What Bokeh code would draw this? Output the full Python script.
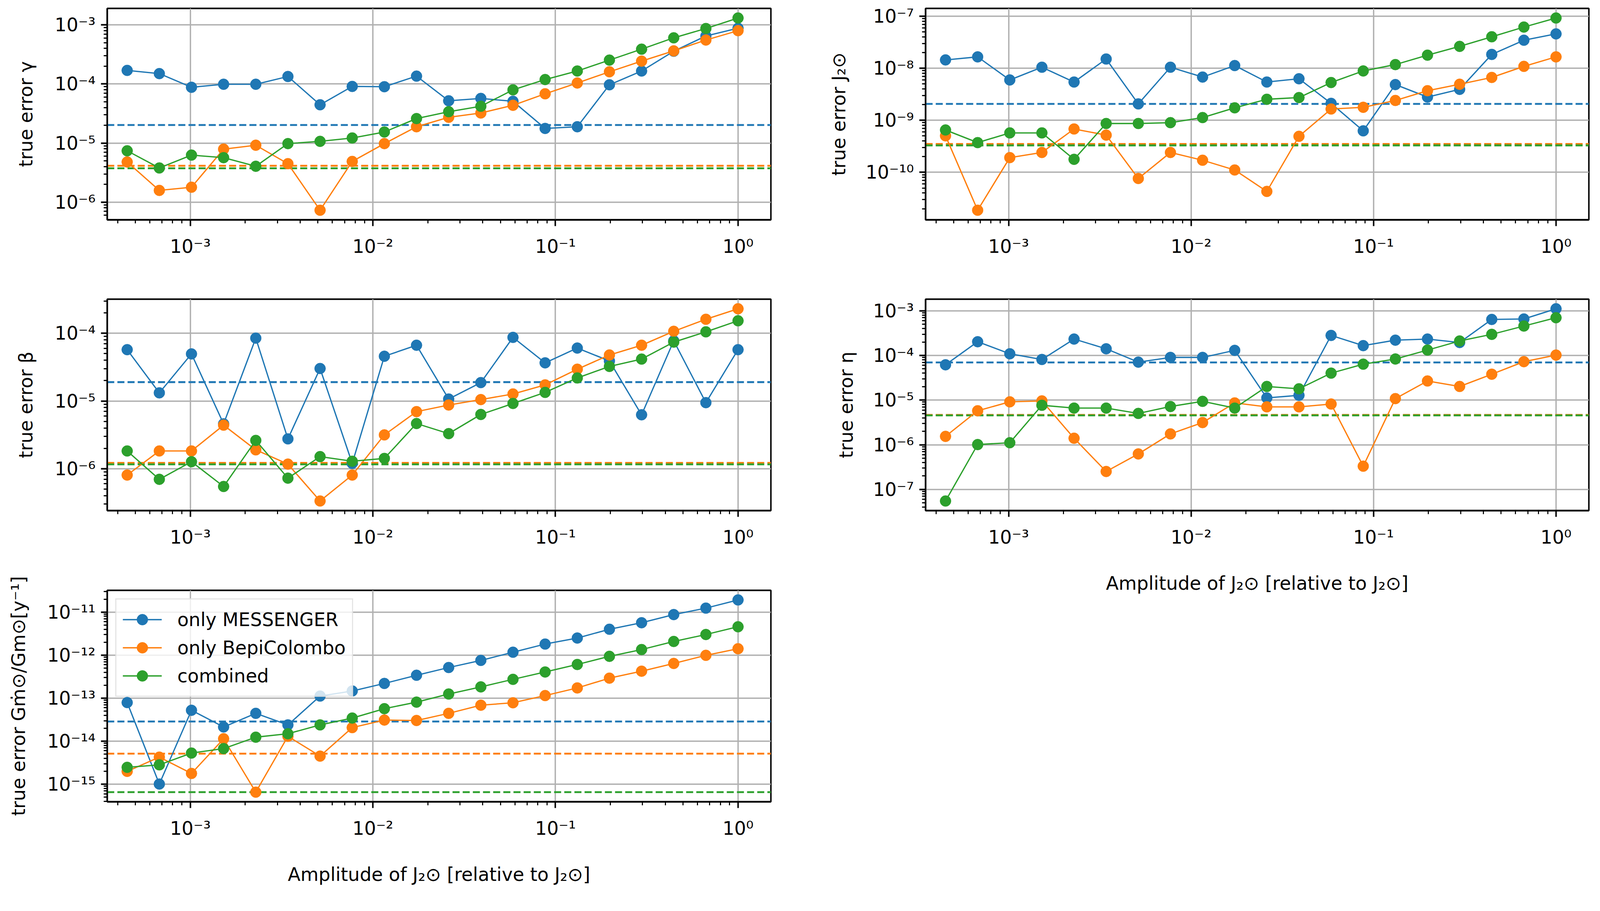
from bokeh.plotting import figure
from bokeh.models import FixedTicker, Span, Range1d
from bokeh.layouts import row, column
from bokeh.embed import file_html
from bokeh.resources import INLINE
import math

# ---------------- data ----------------
amplitude = [4.511e-4, 6.766e-4, 1.015e-3, 1.522e-3, 2.284e-3, 3.425e-3, 5.138e-3,
             7.707e-3, 1.156e-2, 1.734e-2, 2.601e-2, 3.902e-2, 5.853e-2, 8.779e-2,
             0.1317, 0.1975, 0.2963, 0.4444, 0.6667, 1.0]

series_names = ["only MESSENGER", "only BepiColombo", "combined"]
series_colors = ["#1f77b4", "#ff7f0e", "#2ca02c"]

gamma_messenger = [1.70e-4, 1.50e-4, 8.8e-5, 9.9e-5, 9.9e-5, 1.34e-4, 4.45e-5, 9.1e-5, 9.0e-5, 1.36e-4,
                   5.2e-5, 5.7e-5, 5.1e-5, 1.77e-5, 1.89e-5, 9.7e-5, 1.66e-4, 3.59e-4, 6.5e-4, 8.8e-4]
gamma_bepi = [4.79e-6, 1.58e-6, 1.79e-6, 7.9e-6, 9.2e-6, 4.48e-6, 7.3e-7, 4.89e-6, 9.8e-6, 1.89e-5,
              2.73e-5, 3.23e-5, 4.36e-5, 6.83e-5, 1.04e-4, 1.61e-4, 2.44e-4, 3.64e-4, 5.55e-4, 8.0e-4]
gamma_combined = [7.4e-6, 3.79e-6, 6.26e-6, 5.66e-6, 4.05e-6, 9.8e-6, 1.07e-5, 1.22e-5, 1.54e-5, 2.6e-5,
                  3.40e-5, 4.2e-5, 7.96e-5, 1.19e-4, 1.66e-4, 2.54e-4, 3.89e-4, 6.05e-4, 8.7e-4, 1.31e-3]
gamma_thresholds = [2.02e-5, 4.13e-6, 3.74e-6]

j2_messenger = [1.45e-8, 1.66e-8, 5.97e-9, 1.05e-8, 5.45e-9, 1.51e-8, 2.07e-9, 1.05e-8, 6.79e-9, 1.13e-8,
                5.45e-9, 6.3e-9, 2.12e-9, 6.28e-10, 4.87e-9, 2.8e-9, 3.94e-9, 1.85e-8, 3.47e-8, 4.59e-8]
j2_bepi = [5.04e-10, 1.87e-11, 1.92e-10, 2.41e-10, 6.82e-10, 5.2e-10, 7.62e-11, 2.41e-10, 1.71e-10, 1.11e-10,
           4.3e-11, 4.93e-10, 1.65e-9, 1.78e-9, 2.41e-9, 3.71e-9, 4.94e-9, 6.68e-9, 1.09e-8, 1.66e-8]
j2_combined = [6.52e-10, 3.73e-10, 5.73e-10, 5.73e-10, 1.78e-10, 8.69e-10, 8.69e-10, 9.02e-10, 1.13e-9, 1.74e-9,
               2.54e-9, 2.74e-9, 5.33e-9, 8.9e-9, 1.18e-8, 1.79e-8, 2.64e-8, 4.04e-8, 6.21e-8, 9.27e-8]
j2_thresholds = [2.07e-9, 3.51e-10, 3.30e-10]

beta_messenger = [5.73e-5, 1.32e-5, 4.96e-5, 4.6e-6, 8.48e-5, 2.76e-6, 3.02e-5, 1.2e-6, 4.58e-5, 6.66e-5,
                  1.07e-5, 1.87e-5, 8.7e-5, 3.66e-5, 6.05e-5, 3.9e-5, 6.26e-6, 7.74e-5, 9.46e-6, 5.73e-5]
beta_bepi = [8.07e-7, 1.83e-6, 1.83e-6, 4.4e-6, 1.9e-6, 1.17e-6, 3.34e-7, 8.07e-7, 3.16e-6, 6.97e-6,
             8.73e-6, 1.05e-5, 1.27e-5, 1.73e-5, 2.95e-5, 4.78e-5, 6.66e-5, 1.07e-4, 1.61e-4, 2.3e-4]
beta_combined = [1.83e-6, 6.98e-7, 1.27e-6, 5.47e-7, 2.62e-6, 7.26e-7, 1.51e-6, 1.29e-6, 1.42e-6, 4.65e-6,
                 3.3e-6, 6.33e-6, 9.2e-6, 1.34e-5, 2.19e-5, 3.24e-5, 4.16e-5, 7.41e-5, 1.05e-4, 1.53e-4]
beta_thresholds = [1.90e-5, 1.22e-6, 1.16e-6]

eta_messenger = [6.18e-5, 2.03e-4, 1.09e-4, 8.13e-5, 2.33e-4, 1.41e-4, 7.09e-5, 9.04e-5, 9.04e-5, 1.30e-4,
                 1.12e-5, 1.28e-5, 2.81e-4, 1.66e-4, 2.2e-4, 2.33e-4, 1.95e-4, 6.41e-4, 6.56e-4, 1.11e-3]
eta_bepi = [1.54e-6, 5.77e-6, 9.15e-6, 9.6e-6, 1.40e-6, 2.52e-7, 6.23e-7, 1.75e-6, 3.14e-6, 8.65e-6,
            7.06e-6, 7.06e-6, 8.17e-6, 3.31e-7, 1.08e-5, 2.68e-5, 2.02e-5, 3.8e-5, 7.26e-5, 1.02e-4]
eta_combined = [5.5e-8, 1.01e-6, 1.11e-6, 7.66e-6, 6.62e-6, 6.62e-6, 5.03e-6, 7.18e-6, 9.38e-6, 6.62e-6,
                2.02e-5, 1.79e-5, 4.02e-5, 6.38e-5, 8.33e-5, 1.32e-4, 2.11e-4, 2.97e-4, 4.56e-4, 7.0e-4]
eta_thresholds = [6.98e-5, 4.65e-6, 4.55e-6]

gm_messenger = [7.91e-14, 1.01e-15, 5.23e-14, 2.14e-14, 4.44e-14, 2.39e-14, 1.12e-13, 1.47e-13, 2.2e-13, 3.41e-13,
                5.16e-13, 7.55e-13, 1.17e-12, 1.81e-12, 2.5e-12, 4.0e-12, 5.67e-12, 8.77e-12, 1.24e-11, 1.92e-11]
gm_bepi = [1.99e-15, 4.26e-15, 1.78e-15, 1.14e-14, 6.54e-16, 1.30e-14, 4.5e-15, 2.07e-14, 3.1e-14, 3.03e-14,
           4.44e-14, 6.87e-14, 7.82e-14, 1.15e-13, 1.73e-13, 2.92e-13, 4.24e-13, 6.41e-13, 9.91e-13, 1.41e-12]
gm_combined = [2.47e-15, 2.82e-15, 5.3e-15, 6.73e-15, 1.24e-14, 1.49e-14, 2.39e-14, 3.45e-14, 5.7e-14, 8.09e-14,
               1.25e-13, 1.83e-13, 2.74e-13, 4.06e-13, 6.07e-13, 9.39e-13, 1.35e-12, 2.08e-12, 3.02e-12, 4.57e-12]
gm_thresholds = [2.87e-14, 5.13e-15, 6.54e-16]

x_tick_exponents = [-3, -2, -1, 0]
x_limits = (10 ** -3.455, 10 ** 0.18)

y_labels = ["true error γ", "true error J₂⊙", "true error β", "true error η",
            "true error Gṁ⊙/Gm⊙[y⁻¹]"]
x_label = "Amplitude of J₂⊙ [relative to J₂⊙]"

# ---------------- styling helpers ----------------
FONT = "DejaVu Sans"
FS = "47.5px"
SUP = str.maketrans("-0123456789", "⁻⁰¹²³⁴⁵⁶⁷⁸⁹")


def sup_label(e):
    return "10" + str(e).translate(SUP)


def decade_ticker(exps):
    major = [10.0 ** e for e in exps]
    minor = [m * 10.0 ** e for e in range(min(exps) - 1, max(exps) + 1) for m in range(2, 10)]
    return FixedTicker(ticks=major, minor_ticks=minor), {10.0 ** e: sup_label(e) for e in exps}


def make_panel(series, thresholds, ylabel, width, height, mbl, mbr, mbt, mbb,
               ylabel_standoff, show_xlabel=False, legend=False):
    allv = [v for s in series for v in s]
    lo, hi = math.log10(min(allv)), math.log10(max(allv))
    m = 0.05 * (hi - lo)
    y_lo, y_hi = 10 ** (lo - m), 10 ** (hi + m)

    p = figure(width=width, height=height, x_axis_type="log", y_axis_type="log",
               x_range=Range1d(*x_limits), y_range=Range1d(y_lo, y_hi),
               output_backend="svg", toolbar_location=None,
               min_border_left=mbl, min_border_right=mbr,
               min_border_top=mbt, min_border_bottom=mbb)
    p.background_fill_color = "white"
    p.border_fill_color = "white"
    p.outline_line_color = "black"
    p.outline_line_width = 3.8

    xt, xo = decade_ticker(x_tick_exponents)
    ye = list(range(math.ceil(math.log10(y_lo)), math.floor(math.log10(y_hi)) + 1))
    yt, yo = decade_ticker(ye)
    p.xaxis.ticker = xt
    p.xaxis.major_label_overrides = xo
    p.yaxis.ticker = yt
    p.yaxis.major_label_overrides = yo

    for ax in (p.xaxis[0], p.yaxis[0]):
        ax.axis_line_color = "black"
        ax.axis_line_width = 3.8
        ax.major_tick_line_color = "black"
        ax.major_tick_line_width = 3.8
        ax.major_tick_out = 16
        ax.major_tick_in = 0
        ax.minor_tick_line_color = "black"
        ax.minor_tick_line_width = 2.8
        ax.minor_tick_out = 9
        ax.minor_tick_in = 0
        ax.major_label_text_font = FONT
        ax.major_label_text_font_size = FS
        ax.major_label_text_color = "black"
        ax.axis_label_text_font = FONT
        ax.axis_label_text_font_size = FS
        ax.axis_label_text_font_style = "normal"
        ax.axis_label_text_color = "black"
    p.xaxis.major_label_standoff = 24
    p.yaxis.major_label_standoff = 14

    p.yaxis.axis_label = ylabel
    p.yaxis.axis_label_standoff = ylabel_standoff
    if show_xlabel:
        p.xaxis.axis_label = x_label
        p.xaxis.axis_label_standoff = 60

    p.grid.grid_line_color = "#b0b0b0"
    p.grid.grid_line_width = 3.5
    p.grid.minor_grid_line_color = None

    for vals, name, col in zip(series, series_names, series_colors):
        if legend:
            p.line(amplitude, vals, line_color=col, line_width=3.3, legend_label=name)
            p.scatter(amplitude, vals, size=28, fill_color=col, line_color=col, legend_label=name)
        else:
            p.line(amplitude, vals, line_color=col, line_width=3.3)
            p.scatter(amplitude, vals, size=28, fill_color=col, line_color=col)

    for t, col in zip(thresholds, series_colors):
        p.add_layout(Span(location=t, dimension="width", line_color=col, line_width=4.8,
                          line_dash="18 8", level="underlay"))

    if legend:
        lg = p.legend[0]
        lg.location = "top_left"
        lg.margin = 21
        lg.padding = 16
        lg.spacing = 2
        lg.glyph_width = 100
        lg.glyph_height = 70
        lg.label_height = 70
        lg.label_standoff = 40
        lg.label_text_font = FONT
        lg.label_text_font_size = FS
        lg.label_text_color = "black"
        lg.border_line_color = "#cccccc"
        lg.border_line_width = 3
        lg.background_fill_color = "white"
        lg.background_fill_alpha = 0.8
    return p


W1, W2 = 2050, 2037
p1 = make_panel([gamma_messenger, gamma_bepi, gamma_combined], gamma_thresholds, y_labels[0],
                W1, 744, 274, 77, 21, 182, 43)
p3 = make_panel([beta_messenger, beta_bepi, beta_combined], beta_thresholds, y_labels[2],
                W1, 705, 274, 77, 21, 143, 43)
p5 = make_panel([gm_messenger, gm_bepi, gm_combined], gm_thresholds, y_labels[4],
                W1, 827, 274, 77, 61, 225, 43, show_xlabel=True, legend=True)
p2 = make_panel([j2_messenger, j2_bepi, j2_combined], j2_thresholds, y_labels[1],
                W2, 744, 319, 20, 21, 182, 38)
p4 = make_panel([eta_messenger, eta_bepi, eta_combined], eta_thresholds, y_labels[3],
                W2, 787, 319, 20, 21, 225, 38, show_xlabel=True)

layout = row(column(p1, p3, p5, spacing=0), column(p2, p4, spacing=0), spacing=0)

open("out.html", "w").write(file_html(layout, INLINE, title="true error vs amplitude"))
